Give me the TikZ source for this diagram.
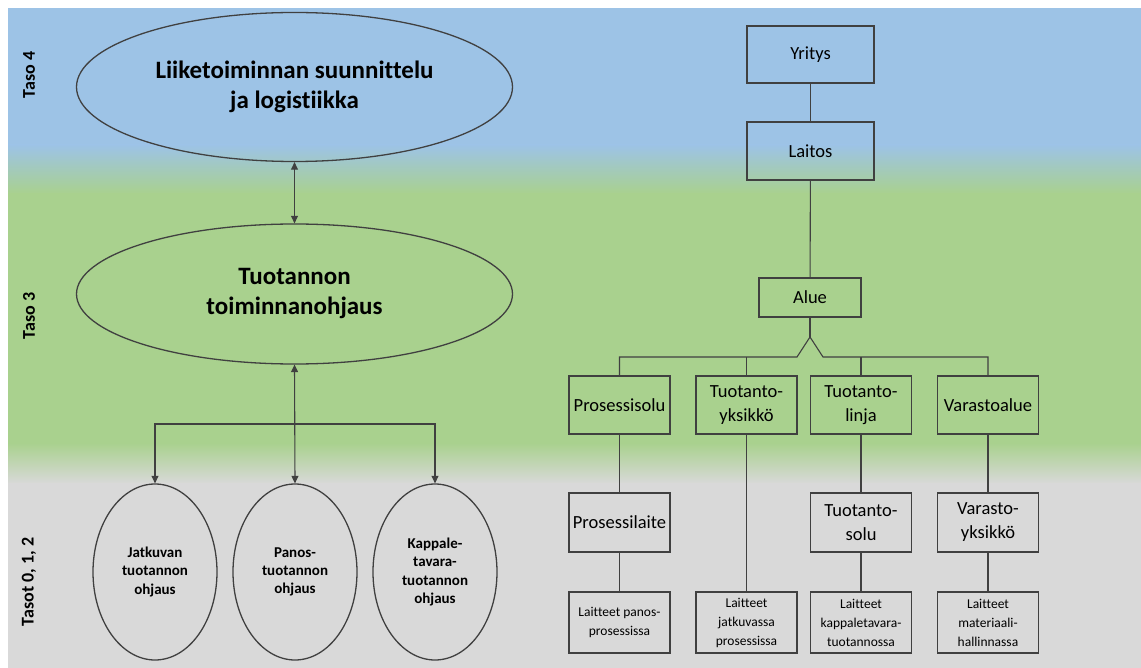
\documentclass[tikz,border=0pt]{standalone}
\usepackage{fontspec}
\setmainfont{Carlito}[Ligatures=NoCommon]
\usetikzlibrary{shapes.geometric,arrows.meta}
\definecolor{bgblue}{RGB}{157,195,230}
\definecolor{bggreen}{RGB}{169,209,142}
\definecolor{bggray}{RGB}{217,217,217}
\definecolor{linegray}{RGB}{64,64,64}
\tikzset{
  line/.style={draw=linegray, line width=1.2pt},
  conn/.style={draw=linegray, line width=1.1pt},
  bigell/.style={ellipse, line, line width=1.3pt, minimum width=436pt, minimum height=144pt, inner sep=0pt,
    align=center, font=\fontsize{25}{30}\selectfont\bfseries},
  smallell/.style={ellipse, line, line width=1.3pt, minimum width=124pt, minimum height=176pt, inner sep=0pt,
    align=center, font=\fontsize{15}{18.3}\selectfont\bfseries},
  box/.style={rectangle, line, minimum width=101pt, minimum height=58pt, inner sep=0pt,
    align=center, font=\fontsize{18.5}{24}\selectfont},
  tinybox/.style={box, minimum height=61pt, font=\fontsize{13.5}{19}\selectfont},
  tier/.style={rotate=90, inner sep=0pt, font=\fontsize{18}{22}\selectfont\bfseries},
  arr/.style={conn, -{Triangle[length=7.5pt,width=7pt]}},
  dblarr/.style={conn, {Triangle[length=7.5pt,width=7pt]}-{Triangle[length=7.5pt,width=7pt]}},
}
\begin{document}
\begin{tikzpicture}[x=1pt, y=-1pt]
\useasboundingbox (0,0) rectangle (1141,668);
% background bands
\fill[white] (0,0) rectangle (1141,668);
\fill[bgblue] (8,8) rectangle (1141,146);
\shade[top color=bgblue, bottom color=bggreen] (8,145) rectangle (1141,194);
\fill[bggreen] (8,193) rectangle (1141,444);
\shade[top color=bggreen, bottom color=bggray] (8,443) rectangle (1141,484);
\fill[bggray] (8,483) rectangle (1141,668);

% level labels
\node[tier] (t4) at (29,75) {Taso 4};
\node[tier] (t3) at (29,316) {Taso 3};
\node[tier] (t012) at (29,582) {Tasot 0, 1, 2};

% left: control functions
\node[bigell, minimum height=149pt] (biz) at (294.5,87) {Liiketoiminnan suunnittelu\\ja logistiikka};
\node[bigell, minimum height=140pt] (mes) at (294.5,294) {Tuotannon\\toiminnanohjaus};
\node[smallell] (c1) at (155,572) {Jatkuvan\\tuotannon\\ohjaus};
\node[smallell] (c2) at (295,572) {Panos-\\tuotannon\\ohjaus};
\node[smallell] (c3) at (435,572) {Kappale-\\tavara-\\tuotannon\\ohjaus};
\coordinate (hub) at (295,424);

\draw[dblarr] (biz.south) -- (mes.north);
\draw[dblarr] (mes.south) -- (c2.north);
\draw[arr] (hub) -| (c1.north);
\draw[arr] (hub) -| (c3.north);

% right: equipment hierarchy
\node[box, minimum width=127pt, minimum height=57pt] (yritys) at (810.5,54.5) {Yritys};
\node[box, minimum width=127pt, minimum height=58pt] (laitos) at (810.5,151) {Laitos};
\node[box, minimum width=102pt, minimum height=39pt] (alue) at (810,297.5) {Alue};

\node[box] (p1) at (619.5,405) {Prosessisolu};
\node[box] (p2) at (746.5,405) {Tuotanto-\\yksikkö};
\node[box] (p3) at (861,405) {Tuotanto-\\linja};
\node[box] (p4) at (988,405) {Varastoalue};

\node[box, minimum height=59pt] (q1) at (619.5,522.5) {Prosessilaite};
\node[box, minimum height=59pt] (q3) at (861,522.5) {Tuotanto-\\solu};
\node[box, minimum height=59pt] (q4) at (988,522.5) {Varasto-\\yksikkö};

\node[tinybox] (r1) at (619.5,622.5) {Laitteet panos-\\prosessissa};
\node[tinybox] (r2) at (746.5,622.5) {Laitteet\\jatkuvassa\\prosessissa};
\node[tinybox] (r3) at (861,622.5) {Laitteet\\kappaletavara-\\tuotannossa};
\node[tinybox] (r4) at (988,622.5) {Laitteet\\materiaali-\\hallinnassa};

\coordinate (apex) at (810,337);
\coordinate (fl) at (797,357);
\coordinate (fr) at (823,357);

\draw[conn] (yritys) -- (laitos);
\draw[conn] (laitos) -- (alue);
\draw[conn] (alue.south) -- (apex);
\draw[conn] (p1.north) |- (fl) -- (apex) -- (fr) -| (p4.north);
\draw[conn] (p2.north) -- (p2.north |- fl);
\draw[conn] (p3.north) -- (p3.north |- fl);

\draw[conn] (p1) -- (q1);
\draw[conn] (q1) -- (r1);
\draw[conn] (p2) -- (r2);
\draw[conn] (p3) -- (q3);
\draw[conn] (q3) -- (r3);
\draw[conn] (p4) -- (q4);
\draw[conn] (q4) -- (r4);
\end{tikzpicture}
\end{document}
